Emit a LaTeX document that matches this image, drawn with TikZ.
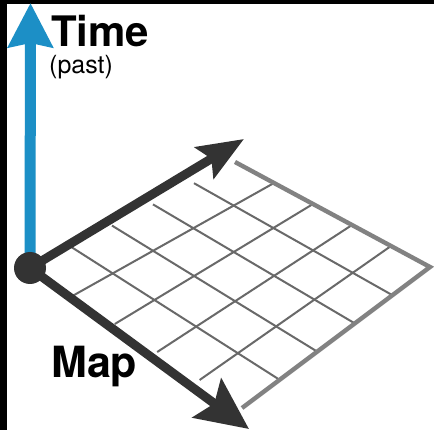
\documentclass[tikz,border=0pt]{standalone}
\usepackage{fontspec}
\newfontfamily\hv{TeX Gyre Heros}
\usetikzlibrary{arrows.meta,calc}
\definecolor{timeblue}{RGB}{28,143,198}
\definecolor{axisdark}{RGB}{51,51,51}
\definecolor{gridgray}{RGB}{105,105,105}
\definecolor{edgegray}{RGB}{130,130,130}
\tikzset{
  gridline/.style={draw=gridgray, line width=2pt},
  outeredge/.style={draw=edgegray, line width=4.4pt, line join=miter},
  maparrow/.style={draw=axisdark, line width=9pt},
  lbl/.style={inner sep=0pt, anchor=base west, text=black}
}
\begin{document}
\begin{tikzpicture}[x=1pt,y=-1pt]
\useasboundingbox (0,0) rectangle (434,430);
\fill[white] (0,0) rectangle (434,430);
% frame strips
\fill[black] (0,0) rectangle (434,4);
\fill[black] (0,0) rectangle (7,430);
% corners of the map plane
\coordinate (O) at (30,268);
\coordinate (T) at (235,162);
\coordinate (R) at (430,267);
\coordinate (B) at (242,408);
\coordinate (upTip) at (244,139);
\coordinate (downTip) at (249,429);
\coordinate (timeTip) at (30.5,3);
% grid
\foreach \i in {0.2,0.4,0.6,0.8} {
  \draw[gridline] ($(O)!\i!(T)$) -- ($(B)!\i!(R)$);
  \draw[gridline] ($(O)!\i!(B)$) -- ($(T)!\i!(R)$);
}
\draw[outeredge] (T) -- (R) -- (B);
% map axes
\draw[maparrow, -{Stealth[length=46pt, width=36pt, inset=8pt]}] (O) -- (upTip);
\draw[maparrow, -{Stealth[length=52pt, width=48pt, inset=9pt]}] (O) -- (downTip);
% time axis
\draw[draw=timeblue, line width=11pt, -{Stealth[length=44pt, width=44pt, inset=4pt]}] (O) -- (timeTip);
% origin dot
\node[circle, fill=axisdark, minimum size=32pt, inner sep=0pt] (dot) at (O) {};
% labels
\node[lbl, font=\hv\bfseries\fontsize{42}{42}\selectfont] (time) at (51,47) {Time};
\node[lbl, font=\hv\fontsize{25}{25}\selectfont] (past) at (49,74) {(past)};
\node[lbl, font=\hv\bfseries\fontsize{43}{43}\selectfont] (map) at (51,378) {Map};
\end{tikzpicture}
\end{document}
